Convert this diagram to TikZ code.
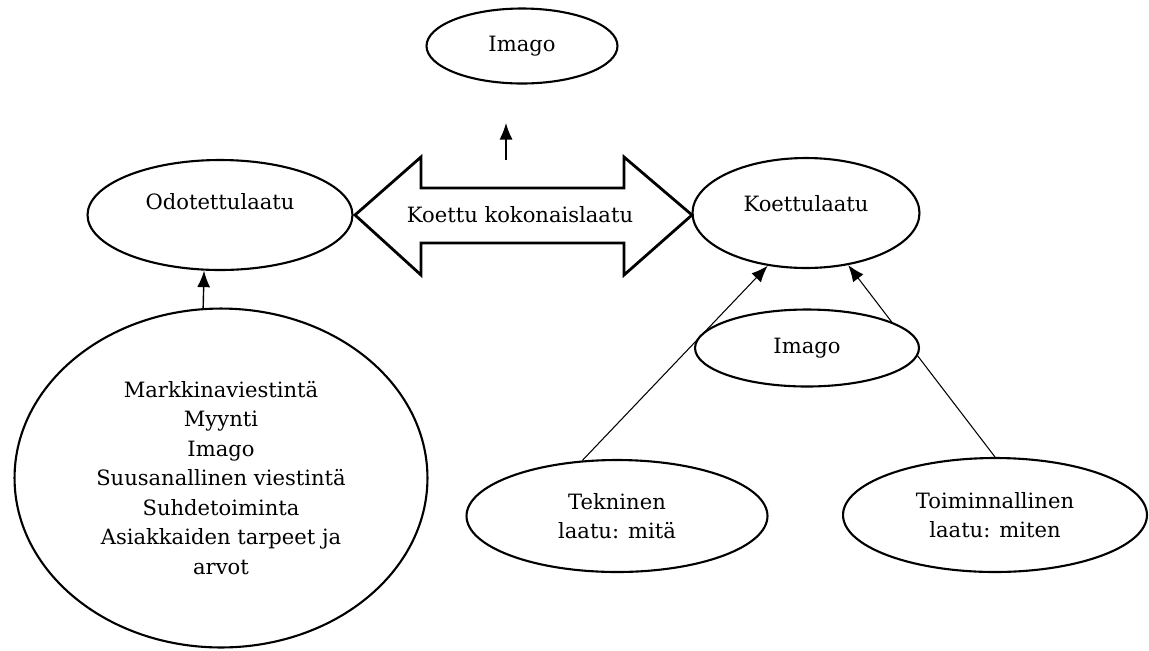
\documentclass[tikz,border=0pt]{standalone}
\usepackage{fontspec}
\setmainfont{DejaVu Serif}
\usetikzlibrary{shapes,backgrounds,arrows.meta}

\tikzset{
	oval/.style={ellipse, draw, line width=1.2pt, fill=white, inner sep=0pt, align=center},
	conn/.style={-{Latex[length=3.3mm,width=2.6mm]}, line width=0.6pt},
}

\begin{document}
\begin{tikzpicture}[x=0.02cm, y=-0.02cm, font=\fontsize{12}{16.8}\selectfont]
	\useasboundingbox (0,0) rectangle (1149,650);
	\node[oval, minimum width=3.82cm, minimum height=1.5cm] (imagotop) at (522,46) {Imago};
	\node[oval, minimum width=5.3cm, minimum height=2.2cm, text depth=0.54cm] (odo) at (220,215) {Odotettulaatu};
	\node[oval, minimum width=4.54cm, minimum height=2.2cm, text depth=0.4cm] (koe) at (806,213) {Koettulaatu};
	\node[oval, minimum width=4.48cm, minimum height=1.54cm] (imagomid) at (807,348) {Imago};
	\node[oval, minimum width=6.02cm, minimum height=2.24cm] (tek) at (617,516) {Tekninen\\laatu: mitä};
	\node[oval, minimum width=6.08cm, minimum height=2.28cm] (toim) at (995,515) {Toiminnallinen\\laatu: miten};
	\node[oval, minimum width=8.26cm, minimum height=6.78cm] (tekijat) at (221,478)
		{Markkinaviestintä\\Myynti\\Imago\\Suusanallinen viestintä\\Suhdetoiminta\\Asiakkaiden tarpeet ja\\arvot};
	% the two-headed arrow between the two qualities
	\draw[line width=1.6pt] (355,215) -- (421,157) -- (421,188) -- (624,188) -- (624,157) -- (692,215)
		-- (624,275) -- (624,243) -- (421,243) -- (421,275) -- cycle;
	\node (kokonais) at (520,215) {Koettu kokonaislaatu};
	\coordinate (up0) at (506,160);
	\coordinate (up1) at (506,123);
	\draw[conn, line width=0.8pt] (up0) -- (up1);
	\draw[conn, line width=0.8pt] (tekijat.96) -- (odo.254);
	\begin{scope}[on background layer]
	\draw[conn] (tek.122) -- (koe.234);   % runs behind the middle Imago
	\draw[conn] (toim.north) -- (koe.309);
	\end{scope}
\end{tikzpicture}
\end{document}
